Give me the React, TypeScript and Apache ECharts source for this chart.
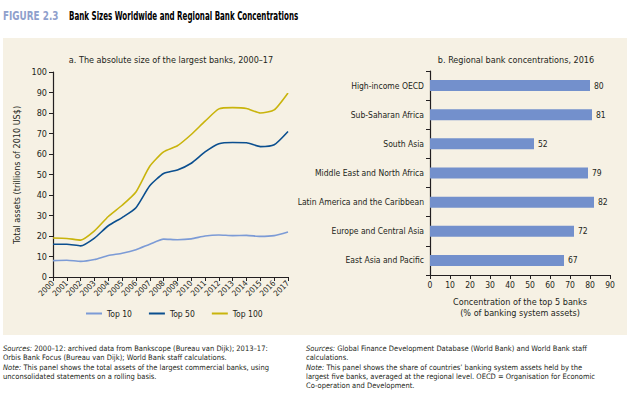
import React, { useEffect, useRef } from "react";
import * as echarts from "echarts";

const years = ["2000","2001","2002","2003","2004","2005","2006","2007","2008","2009","2010","2011","2012","2013","2014","2015","2016","2017"];
const top10 = [8, 8.2, 7.6, 8.5, 10.5, 11.6, 13.3, 16, 18.5, 18.2, 18.6, 20, 20.5, 20.2, 20.3, 19.8, 20.2, 22];
const top50 = [16, 16, 15.2, 19, 25, 29, 33.8, 44.5, 50.5, 52.2, 55.5, 61, 65, 65.6, 65.5, 63.6, 64.5, 71];
const top100 = [19, 18.8, 18, 22.5, 29.5, 35, 41.5, 54, 61, 64, 69.5, 76, 82, 82.6, 82.2, 80, 81.5, 89.8];
const regions = ["East Asia and Pacific","Europe and Central Asia","Latin America and the Caribbean","Middle East and North Africa","South Asia","Sub-Saharan Africa","High-income OECD"];
const concentration = [67, 72, 82, 79, 52, 81, 80];
const yTicksLeft = [0, 100, 10];
const xTicksRight = [0, 90, 10];

const FONT = "'Liberation Sans Narrow', 'DejaVu Sans Condensed', 'Roboto', sans-serif";
const TXT = "#231f20";

export default function App() {
  const ref = useRef<HTMLDivElement>(null);
  useEffect(() => {
    if (!ref.current) return;
    const chart = echarts.init(ref.current, undefined, { renderer: "svg" });
    const axisLine = { show: true, lineStyle: { color: "#231f20", width: 1.2 } };
    const fn = { fontFamily: FONT, color: TXT };
    chart.setOption({
      animation: false,
      backgroundColor: "#ffffff",
      textStyle: { fontFamily: FONT },
      graphic: [
        { type: "rect", z: -10, shape: { x: 3, y: 38, width: 624, height: 297 }, style: { fill: "#f6f1e4" } },
        { type: "text", x: 3, y: 10, scaleX: 0.82, style: { text: "FIGURE 2.3", font: `bold 12px ${FONT}`, fill: "#8fa0cc" } },
        { type: "text", x: 69, y: 10, scaleX: 0.66, style: { text: "Bank Sizes Worldwide and Regional Bank Concentrations", font: `bold 12px ${FONT}`, fill: "#000" } },
        { type: "text", x: 171, y: 55, style: { text: "a. The absolute size of the largest banks, 2000–17", font: `9px ${FONT}`, fill: TXT, align: "center" } },
        { type: "text", x: 516, y: 55, style: { text: "b. Regional bank concentrations, 2016", font: `9px ${FONT}`, fill: TXT, align: "center" } },
        { type: "text", x: 17, y: 175, rotation: Math.PI / 2, style: { text: "Total assets (trillions of 2010 US$)", font: `9px ${FONT}`, fill: TXT, align: "center", verticalAlign: "middle" } },
        {
          type: "text", x: 3, y: 344,
          style: {
            text: "{i|Sources:} 2000–12: archived data from Bankscope (Bureau van Dijk); 2013–17:\nOrbis Bank Focus (Bureau van Dijk); World Bank staff calculations.\n{i|Note:} This panel shows the total assets of the largest commercial banks, using\nunconsolidated statements on a rolling basis.",
            font: `7.5px ${FONT}`, fill: TXT, lineHeight: 9.3,
            rich: { i: { fontStyle: "italic", fontSize: 7.5, fontFamily: FONT, fill: TXT } },
          },
        },
        {
          type: "text", x: 306, y: 344,
          style: {
            text: "{i|Sources:} Global Finance Development Database (World Bank) and World Bank staff\ncalculations.\n{i|Note:} This panel shows the share of countries’ banking system assets held by the\nlargest five banks, averaged at the regional level. OECD = Organisation for Economic\nCo-operation and Development.",
            font: `7.5px ${FONT}`, fill: TXT, lineHeight: 9.3,
            rich: { i: { fontStyle: "italic", fontSize: 7.5, fontFamily: FONT, fill: TXT } },
          },
        },
      ],
      legend: {
        left: 81, top: 304, itemWidth: 16, itemHeight: 2, itemGap: 17,
        icon: "rect",
        textStyle: { fontSize: 8.5, ...fn },
        data: ["Top 10", "Top 50", "Top 100"],
      },
      grid: [
        { left: 53, top: 72, width: 235, height: 205 },
        { left: 430, top: 71, width: 180, height: 204 },
      ],
      xAxis: [
        {
          gridIndex: 0, type: "category", data: years, boundaryGap: false,
          axisLine, axisTick: { show: true, length: 4, lineStyle: { color: "#231f20" } },
          axisLabel: { rotate: 45, fontSize: 8, margin: 5, interval: 0, ...fn },
        },
        {
          gridIndex: 1, type: "value", min: xTicksRight[0], max: xTicksRight[1], interval: xTicksRight[2],
          axisLine, axisTick: { show: true, length: 4, lineStyle: { color: "#231f20" } },
          splitLine: { show: false },
          axisLabel: { fontSize: 8.5, margin: 5, ...fn },
          name: "Concentration of the top 5 banks\n(% of banking system assets)",
          nameLocation: "middle", nameGap: 21,
          nameTextStyle: { fontSize: 9, lineHeight: 11, ...fn },
        },
      ],
      yAxis: [
        {
          gridIndex: 0, type: "value", min: yTicksLeft[0], max: yTicksLeft[1], interval: yTicksLeft[2],
          axisLine, axisTick: { show: true, length: 4, lineStyle: { color: "#231f20" } },
          splitLine: { show: false },
          axisLabel: { fontSize: 9, margin: 6, ...fn },
        },
        {
          gridIndex: 1, type: "category", data: regions,
          axisLine, axisTick: { show: true, length: 4, lineStyle: { color: "#231f20" } },
          axisLabel: { fontSize: 8.5, margin: 6, ...fn },
        },
      ],
      series: [
        { name: "Top 10", type: "line", xAxisIndex: 0, yAxisIndex: 0, data: top10, smooth: 0.2, symbol: "none", lineStyle: { color: "#7c9bd6", width: 1.6 }, itemStyle: { color: "#7c9bd6" } },
        { name: "Top 50", type: "line", xAxisIndex: 0, yAxisIndex: 0, data: top50, smooth: 0.2, symbol: "none", lineStyle: { color: "#0b4f8f", width: 1.6 }, itemStyle: { color: "#0b4f8f" } },
        { name: "Top 100", type: "line", xAxisIndex: 0, yAxisIndex: 0, data: top100, smooth: 0.2, symbol: "none", lineStyle: { color: "#c9b40c", width: 1.6 }, itemStyle: { color: "#c9b40c" } },
        {
          name: "Concentration", type: "bar", xAxisIndex: 1, yAxisIndex: 1, data: concentration,
          barWidth: 11, itemStyle: { color: "#7390cc" },
          label: { show: true, position: "right", distance: 4, fontSize: 8.5, ...fn },
        },
      ],
    });
    return () => chart.dispose();
  }, []);
  return <div ref={ref} style={{ position: "fixed", left: 0, top: 0, width: 634, height: 398 }} />;
}
